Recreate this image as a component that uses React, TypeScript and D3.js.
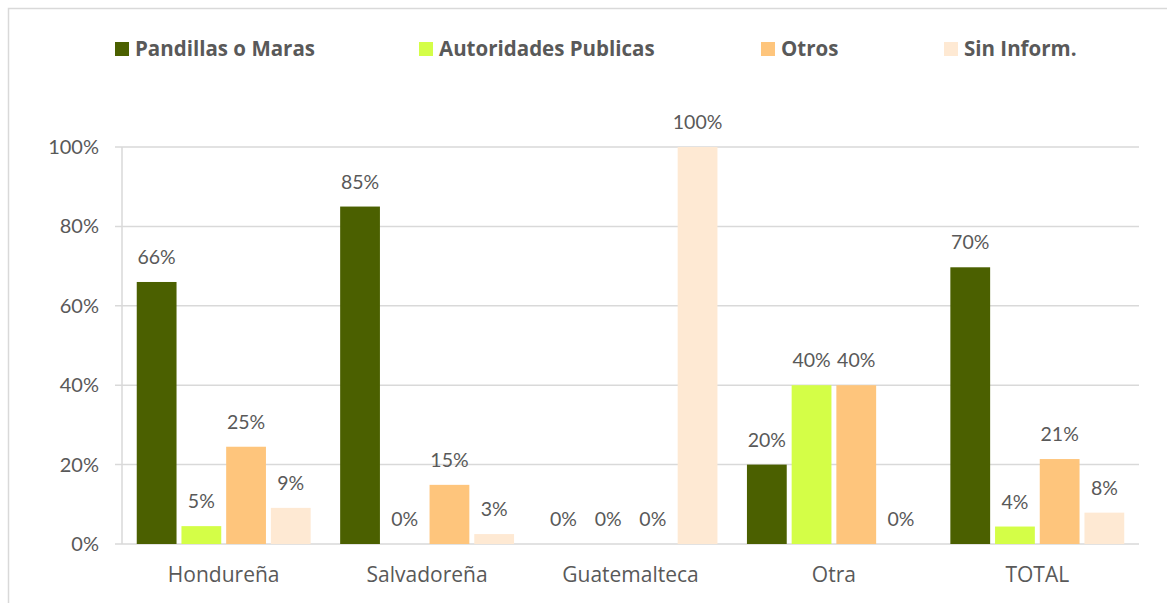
import React from "react";
import * as d3 from "d3";

const categories = ["Hondureña", "Salvadoreña", "Guatemalteca", "Otra", "TOTAL"];
const seriesNames = ["Pandillas o Maras", "Autoridades Publicas", "Otros", "Sin Inform."];
const pandillas = [66, 85, 0, 20, 69.7];
const autoridades = [4.5, 0, 0, 40, 4.4];
const otros = [24.5, 14.9, 0, 40, 21.4];
const sinInform = [9.1, 2.5, 100, 0, 7.9];
const yTicks = [0, 20, 40, 60, 80, 100];
const colors = ["#4b6000", "#d4fe47", "#fec57c", "#fee9d3"];

const seriesValues = [pandillas, autoridades, otros, sinInform];

export default function App() {
  const W = 1167, H = 603;
  const left = 122, right = 1139, top = 147, bottom = 544;
  const x0 = d3.scaleBand<string>().domain(categories).range([left, right]).paddingInner(0.145).paddingOuter(0.0725);
  const x1 = d3.scaleBand<string>().domain(seriesNames).range([0, x0.bandwidth()]).paddingInner(0.11);
  const y = d3.scaleLinear().domain([0, 100]).range([bottom, top]);
  const numFont = "Lato, 'Open Sans', sans-serif";
  const txtFont = "'Open Sans', Lato, sans-serif";
  const textColor = "#595959";
  const legendX = [115, 419, 761, 944];

  return (
    <svg width={W} height={H} style={{ position: "absolute", left: 0, top: 0 }} fontFamily={numFont}>
      <rect x={0} y={0} width={W} height={H} fill="#fff" />
      <rect x={8.5} y={8.5} width={W + 20} height={H + 20} fill="none" stroke="#d9d9d9" strokeWidth={1.5} />
      {/* legend */}
      {seriesNames.map((s, i) => (
        <g key={s}>
          <rect x={legendX[i]} y={42} width={14} height={14} fill={colors[i]} />
          <text x={legendX[i] + 20} y={56} fontSize={20.5} fontWeight="bold" fill={textColor} fontFamily={txtFont}>{s}</text>
        </g>
      ))}
      {/* gridlines */}
      {yTicks.map((t) => (
        <g key={t}>
          <line x1={left - 7} x2={right} y1={y(t)} y2={y(t)} stroke="#d9d9d9" strokeWidth={1.5} />
          <text x={99} y={y(t)} dy="0.35em" textAnchor="end" fontSize={20} fill={textColor}>{t}%</text>
        </g>
      ))}
      <line x1={left} x2={left} y1={top} y2={bottom} stroke="#d9d9d9" strokeWidth={1.5} />
      {/* bars */}
      {categories.map((c, ci) => (
        <g key={c} transform={`translate(${x0(c)},0)`}>
          {seriesNames.map((s, si) => {
            const v = seriesValues[si][ci];
            const bx = x1(s)!;
            const bw = x1.bandwidth();
            return (
              <g key={s}>
                {v > 0 && <rect x={bx} y={y(v)} width={bw} height={bottom - y(v)} fill={colors[si]} />}
                <text x={bx + bw / 2} y={y(v) - 18} textAnchor="middle" fontSize={19.5} fill={textColor}>{Math.round(v)}%</text>
              </g>
            );
          })}
          <text x={x0.bandwidth() / 2} y={582} textAnchor="middle" fontSize={21} fill={textColor} fontFamily={txtFont}>{c}</text>
        </g>
      ))}
    </svg>
  );
}
